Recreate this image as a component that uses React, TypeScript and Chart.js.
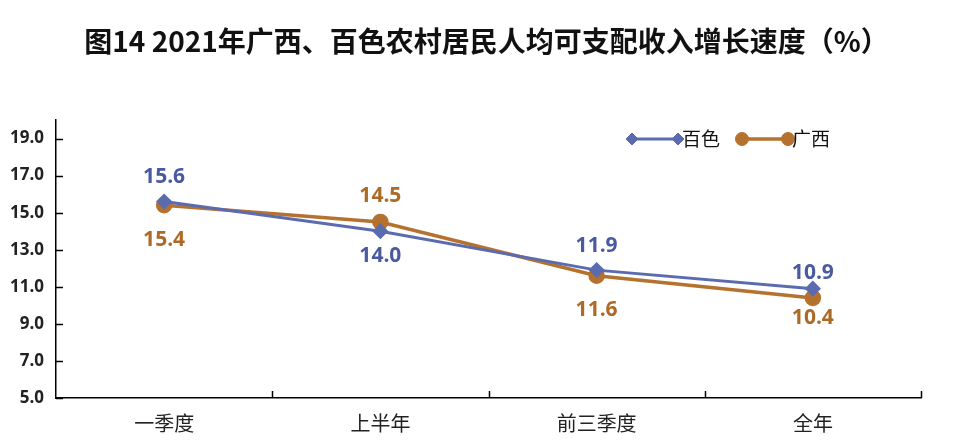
import React, { useEffect, useRef } from "react";
import { Chart, registerables } from "chart.js";
import { drawPoint } from "chart.js/helpers";

Chart.register(...registerables);

const TITLE = "图14 2021年广西、百色农村居民人均可支配收入增长速度（%）";
const categories = ["一季度", "上半年", "前三季度", "全年"];
const seriesNames = ["百色", "广西"];
const baiseValues = [15.6, 14.0, 11.9, 10.9];
const guangxiValues = [15.4, 14.5, 11.6, 10.4];
const yTicks = [5, 7, 9, 11, 13, 15, 17, 19];

// label vertical offsets (px) from each point — style config, not data
const baiseLabelDy = [-25, 25, -24, -16];
const guangxiLabelDy = [35, -26, 34, 20];

const BLUE = "#5B6BB0";
const BLUE_TEXT = "#4A5A9E";
const ORANGE = "#B5712E";
const ORANGE_TEXT = "#AD6A27";

const customPlugin = {
  id: "custom",
  afterLayout(chart: any) {
    // nudge the title's box so the title sits where the reference has it
    if (chart.titleBlock) chart.titleBlock.left += 20;
  },
  afterDatasetsDraw(chart: any) {
    const ctx = chart.ctx;
    ctx.save();
    ctx.font = "bold 21px 'Open Sans'";
    ctx.textAlign = "center";
    ctx.textBaseline = "middle";
    chart.data.datasets.forEach((ds: any, di: number) => {
      const meta = chart.getDatasetMeta(di);
      meta.data.forEach((pt: any, i: number) => {
        ctx.fillStyle = ds.labelColor;
        ctx.fillText(Number(ds.data[i]).toFixed(1), pt.x, pt.y + ds.labelDy[i]);
      });
    });
    ctx.restore();
  },
  afterDraw(chart: any) {
    const ctx = chart.ctx;
    const area = chart.chartArea;
    const ys = chart.scales.y;
    ctx.save();
    ctx.strokeStyle = "#000";
    ctx.lineWidth = 1.5;
    ys.ticks.forEach((t: any) => {
      const y = Math.round(ys.getPixelForValue(t.value)) + 0.5;
      ctx.beginPath();
      ctx.moveTo(area.left, y);
      ctx.lineTo(area.left + 7, y);
      ctx.stroke();
    });
    const n = categories.length;
    for (let i = 1; i <= n; i++) {
      const x = Math.round(area.left + ((area.right - area.left) * i) / n) + 0.5;
      ctx.beginPath();
      ctx.moveTo(x, area.bottom);
      ctx.lineTo(x, area.bottom - 7);
      ctx.stroke();
    }
    // legend
    let lx = 632;
    const ly = 139;
    ctx.font = "19px 'Noto Sans CJK SC'";
    ctx.textBaseline = "middle";
    ctx.textAlign = "left";
    chart.data.datasets.forEach((ds: any) => {
      ctx.strokeStyle = ds.borderColor;
      ctx.lineWidth = ds.borderWidth;
      ctx.beginPath();
      ctx.moveTo(lx, ly);
      ctx.lineTo(lx + 46, ly);
      ctx.stroke();
      const opts = {
        pointStyle: ds.pointStyle,
        radius: ds.pointRadius,
        borderWidth: 1,
        rotation: 0,
      };
      ctx.fillStyle = ds.pointBackgroundColor;
      ctx.strokeStyle = ds.borderColor;
      ctx.lineWidth = 1;
      drawPoint(ctx, opts, lx, ly);
      drawPoint(ctx, opts, lx + 46, ly);
      ctx.fillStyle = "#111";
      ctx.fillText(ds.label, lx + 50, ly);
      const w = ctx.measureText(ds.label).width;
      lx += 50 + w + 22;
    });
    ctx.restore();
  },
};

export default function App() {
  const ref = useRef<HTMLCanvasElement>(null);
  useEffect(() => {
    const chart = new Chart(ref.current as HTMLCanvasElement, {
      type: "line",
      data: {
        labels: categories,
        datasets: [
          {
            label: seriesNames[0],
            data: baiseValues,
            borderColor: BLUE,
            backgroundColor: BLUE,
            pointBackgroundColor: BLUE,
            pointBorderColor: BLUE,
            borderWidth: 3,
            pointStyle: "rectRot",
            pointRadius: 6,
            pointHoverRadius: 6,
            tension: 0,
            labelDy: baiseLabelDy,
            labelColor: BLUE_TEXT,
          } as any,
          {
            label: seriesNames[1],
            data: guangxiValues,
            borderColor: ORANGE,
            backgroundColor: ORANGE,
            pointBackgroundColor: ORANGE,
            pointBorderColor: ORANGE,
            borderWidth: 3.5,
            pointStyle: "circle",
            pointRadius: 6.5,
            pointHoverRadius: 6.5,
            tension: 0,
            labelDy: guangxiLabelDy,
            labelColor: ORANGE_TEXT,
          } as any,
        ],
      },
      options: {
        animation: false,
        responsive: false,
        layout: { padding: 0 },
        plugins: {
          legend: { display: false },
          tooltip: { enabled: false },
          title: {
            display: true,
            text: TITLE,
            color: "#111",
            font: { family: "'Noto Sans CJK SC'", size: 28, weight: "bold", lineHeight: 1.2 },
            padding: { top: 25, bottom: 61.4 },
          },
        },
        scales: {
          x: {
            type: "category",
            offset: true,
            grid: { display: false, drawTicks: false },
            border: { display: true, color: "#000", width: 1.5 },
            ticks: {
              color: "#222",
              font: { family: "'Noto Sans CJK SC'", size: 20 },
              padding: 13,
              maxRotation: 0,
            },
            afterFit(scale: any) {
              scale.height = 46;
            },
          },
          y: {
            min: 5,
            max: 20,
            grid: { display: false, drawTicks: false },
            border: { display: true, color: "#000", width: 1.5 },
            afterBuildTicks(scale: any) {
              scale.ticks = yTicks.map((v) => ({ value: v }));
            },
            ticks: {
              color: "#222",
              font: { family: "'Open Sans'", size: 17, weight: "bold" },
              padding: 12,
              callback: (v: any) => Number(v).toFixed(1),
            },
            afterFit(scale: any) {
              scale.width = 56;
            },
          },
          yRightSpacer: {
            type: "linear",
            position: "right",
            display: true,
            grid: { display: false, drawTicks: false },
            border: { display: false },
            ticks: { display: false },
            afterFit(scale: any) {
              scale.width = 32;
            },
          },
        },
      } as any,
      plugins: [customPlugin],
    });
    return () => chart.destroy();
  }, []);
  return (
    <div style={{ position: "absolute", left: 0, top: 0, width: 953, height: 444, background: "#fff" }}>
      <canvas ref={ref} width={953} height={444} />
    </div>
  );
}
